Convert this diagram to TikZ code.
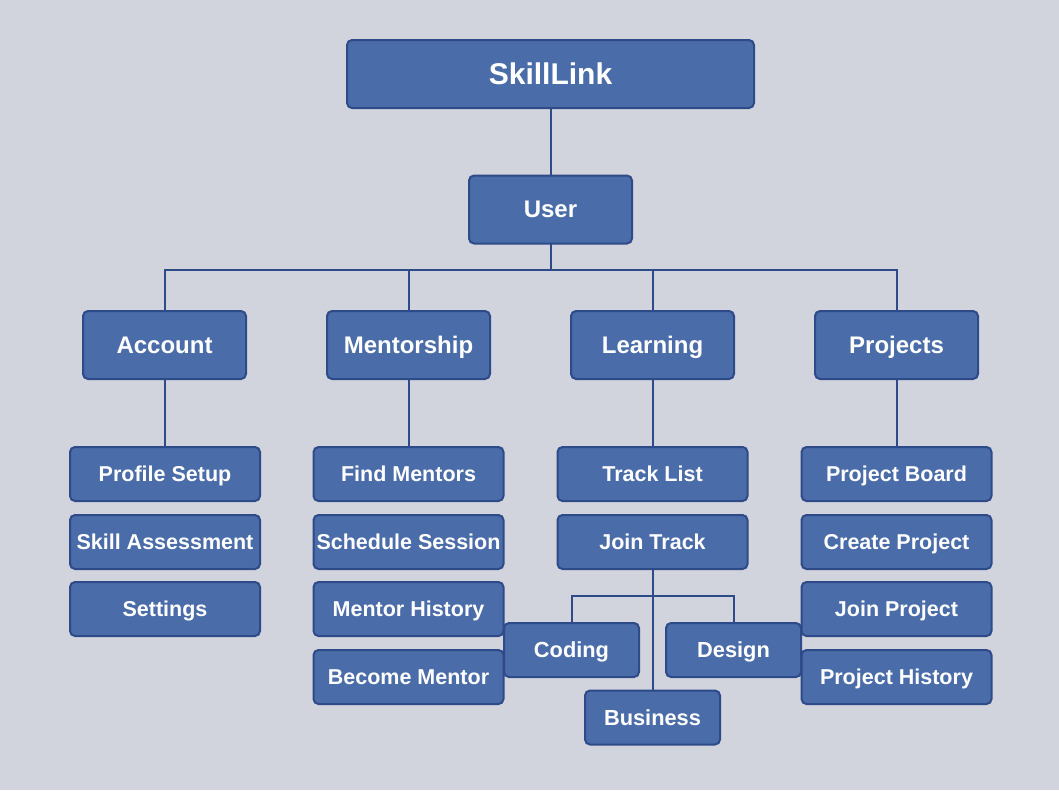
\documentclass[tikz,border=0pt]{standalone}
\usepackage{fontspec}
\setmainfont{Liberation Sans}
\usepackage{tikz}
\usetikzlibrary{calc}
\definecolor{bgcol}{RGB}{209,212,220}
\definecolor{boxfill}{RGB}{74,108,168}
\definecolor{boxline}{RGB}{46,74,136}
\begin{document}
\begin{tikzpicture}[x=1pt,y=-1pt,
  box/.style={draw=boxline, fill=boxfill, line width=2pt, rounded corners=5pt, text=white, inner sep=0pt, align=center},
  topbox/.style={box, minimum width=407pt, minimum height=68pt, font=\fontsize{30}{34}\selectfont\bfseries, text height=25.5pt, text depth=4.5pt},
  midbox/.style={box, minimum width=163pt, minimum height=68pt, font=\fontsize{24}{28}\selectfont\bfseries, text height=20.4pt, text depth=3.6pt},
  leafbox/.style={box, minimum width=190pt, minimum height=54pt, font=\fontsize{21.5}{24}\selectfont\bfseries, text height=18.3pt, text depth=3.2pt},
  subbox/.style={box, minimum width=135pt, minimum height=54pt, font=\fontsize{21.8}{24}\selectfont\bfseries, text height=18.5pt, text depth=3.3pt},
  link/.style={draw=boxline, line width=2pt}]
        \fill[bgcol] (0,0) rectangle (1059,790);
        \useasboundingbox (0,0) rectangle (1059,790);

        \coordinate (bus) at (550.5,270);
        \coordinate (lbus) at (652.5,596);

        \draw[link] (550.5,74) -- (550.5,209.5);
        \draw[link] (bus) -- (164.5,270) -- (164.5,345);
        \draw[link] (bus) -- (896.5,270) -- (896.5,345);
        \draw[link] (408.5,270) -- (408.5,345);
        \draw[link] (652.5,270) -- (652.5,345);
        \draw[link] (550.5,209.5) -- (bus);
        \draw[link] (164.5,345) -- (164.5,474);
        \draw[link] (408.5,345) -- (408.5,474);
        \draw[link] (652.5,345) -- (652.5,474);
        \draw[link] (896.5,345) -- (896.5,474);
        \draw[link] (652.5,542) -- (652.5,717.5);
        \draw[link] (571.5,650) -- (571.5,596) -- (733.5,596) -- (733.5,650);

        \node[topbox](skilllink) at (550.5,74){SkillLink};
        \node[midbox](user) at (550.5,209.5){User};

        \node[midbox](account) at (164.5,345){Account};
        \node[midbox](mentorship) at (408.5,345){Mentorship};
        \node[midbox](learning) at (652.5,345){Learning};
        \node[midbox](projects) at (896.5,345){Projects};

        \node[leafbox](profile) at (165,474){Profile Setup};
        \node[leafbox](assess) at (165,542){Skill Assessment};
        \node[leafbox](settings) at (165,609){Settings};

        \node[leafbox](findm) at (408.5,474){Find Mentors};
        \node[leafbox](sched) at (408.5,542){Schedule Session};
        \node[leafbox](mhist) at (408.5,609){Mentor History};
        \node[leafbox](becomem) at (408.5,677){Become Mentor};

        \node[leafbox](tracks) at (652.5,474){Track List};
        \node[leafbox](jointrack) at (652.5,542){Join Track};

        \node[leafbox](pboard) at (896.5,474){Project Board};
        \node[leafbox](pcreate) at (896.5,542){Create Project};
        \node[leafbox](pjoin) at (896.5,609){Join Project};
        \node[leafbox](phist) at (896.5,677){Project History};

        \node[subbox](coding) at (571.5,650){Coding};
        \node[subbox](design) at (733.5,650){Design};
        \node[subbox](business) at (652.5,717.5){Business};
      \end{tikzpicture}
\end{document}
